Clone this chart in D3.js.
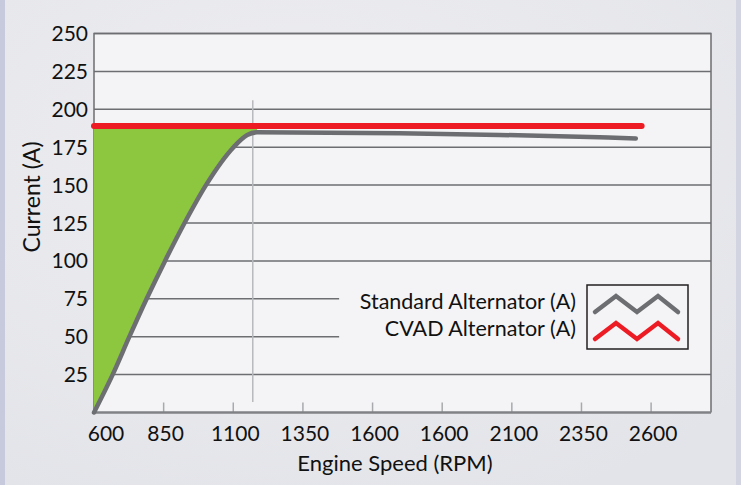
<!DOCTYPE html>
<html>
<head>
<meta charset="utf-8">
<script src="https://cdn.jsdelivr.net/npm/d3@7"></script>
<style>
  body { margin: 0; background: #e8e8ec; }
  svg { display: block; font-family: Lato, "Open Sans", sans-serif; }
</style>
</head>
<body>
<svg></svg>
<script>
const width = 741;
const height = 485;

// data
const stdRpm = [600, 667, 727, 789, 855, 925, 1002, 1101, 1150, 1185, 1697, 2056, 2415, 2545];
const stdAmps = [0, 25, 50, 75, 100, 125, 150, 175, 183, 184.8, 184.2, 183.1, 181.5, 180.8];
const cvadRpm = [600, 2566];
const cvadAmps = [189, 189];
const yTicks = [25, 50, 75, 100, 125, 150, 175, 200, 225, 250];
const xTickValues = [600, 850, 1100, 1350, 1600, 1850, 2100, 2350, 2600];
const xTickLabels = ['600', '850', '1100', '1350', '1600', '1600', '2100', '2350', '2600'];
const shortGrid = [50, 75];
const shortGridEnd = 1480;
const markerRpm = 1170;
const markerRange = [7, 206];
const legendNames = ['Standard Alternator (A)', 'CVAD Alternator (A)'];
const legendColors = ['#6d6e71', '#ed1c24'];

const svg = d3.select('svg')
    .attr('width', width)
    .attr('height', height);

// background
const defs = svg.append('defs');
const bg = defs.append('radialGradient').attr('id', 'bg').attr('cx', '0.4').attr('cy', '0.3').attr('r', '0.8');
bg.append('stop').attr('offset', '0').attr('stop-color', '#eeeef1');
bg.append('stop').attr('offset', '1').attr('stop-color', '#e3e4e9');
svg.append('rect').attr('width', width).attr('height', height).attr('fill', 'url(#bg)');
svg.append('rect').attr('x', 0).attr('width', 5).attr('height', height).attr('fill', '#c7cadd');
svg.append('rect').attr('x', 736).attr('width', 5).attr('height', height).attr('fill', '#d2d4e2');

const x = d3.scaleLinear().domain([600, 2815]).range([94, 711]);
const y = d3.scaleLinear().domain([0, 250]).range([412.5, 33.5]);

// plot panel
svg.append('rect')
    .attr('x', x(600)).attr('y', y(250))
    .attr('width', x(2815) - x(600)).attr('height', y(0) - y(250))
    .attr('fill', '#f4f4f6');

// grid lines
const grid = svg.append('g');
grid.selectAll('line')
    .data(yTicks)
    .join('line')
    .attr('x1', x(600))
    .attr('x2', d => shortGrid.includes(d) ? x(shortGridEnd) : x(2815))
    .attr('y1', d => y(d))
    .attr('y2', d => y(d))
    .attr('stroke', '#6d6e71')
    .attr('stroke-width', 1.5);

// marker line
svg.append('line')
    .attr('x1', x(markerRpm)).attr('x2', x(markerRpm))
    .attr('y1', y(markerRange[1])).attr('y2', y(markerRange[0]))
    .attr('stroke', '#b8b9bc')
    .attr('stroke-width', 1.5);

// bottom ticks
svg.append('g').selectAll('line')
    .data(xTickValues.slice(1))
    .join('line')
    .attr('x1', d => x(d)).attr('x2', d => x(d))
    .attr('y1', y(0)).attr('y2', y(0) - 10)
    .attr('stroke', '#a7a9ac')
    .attr('stroke-width', 1.5);

// frame
svg.append('path')
    .attr('d', `M${x(600)},${y(0)}V${y(250)}H${x(2815)}V${y(0)}`)
    .attr('fill', 'none')
    .attr('stroke', '#6d6e71')
    .attr('stroke-width', 1.5);
svg.append('line')
    .attr('x1', x(600)).attr('x2', x(2815))
    .attr('y1', y(0)).attr('y2', y(0))
    .attr('stroke', '#808285')
    .attr('stroke-width', 2.5);

const stdData = stdRpm.map((r, i) => ({ rpm: r, amps: stdAmps[i] }));
const cvadData = cvadRpm.map((r, i) => ({ rpm: r, amps: cvadAmps[i] }));

// green gain area
const area = d3.area()
    .x(d => x(d.rpm))
    .y0(d => y(d.amps))
    .y1(y(cvadAmps[0]))
    .curve(d3.curveMonotoneX);
svg.append('path')
    .datum(stdData.filter(d => d.rpm <= 1185))
    .attr('d', area)
    .attr('fill', '#8dc63f');

const line = d3.line()
    .x(d => x(d.rpm))
    .y(d => y(d.amps))
    .curve(d3.curveMonotoneX);

svg.append('path')
    .datum(stdData)
    .attr('d', line)
    .attr('fill', 'none')
    .attr('stroke', legendColors[0])
    .attr('stroke-width', 4.5)
    .attr('stroke-linecap', 'round');

svg.append('path')
    .datum(cvadData)
    .attr('d', line)
    .attr('fill', 'none')
    .attr('stroke', legendColors[1])
    .attr('stroke-width', 6)
    .attr('stroke-linecap', 'round');

// y labels
svg.append('g').selectAll('text')
    .data(yTicks)
    .join('text')
    .attr('x', 88)
    .attr('y', d => y(d))
    .attr('dy', '0.36em')
    .attr('text-anchor', 'end')
    .attr('font-size', 21)
    .attr('fill', '#111')
    .text(d => d);

// x labels
svg.append('g').selectAll('text')
    .data(xTickValues)
    .join('text')
    .attr('x', (d, i) => i == 0 ? x(d) + 12 : x(d) + 2)
    .attr('y', 441)
    .attr('text-anchor', 'middle')
    .attr('font-size', 21)
    .attr('fill', '#111')
    .text((d, i) => xTickLabels[i]);

svg.append('text')
    .attr('x', 395).attr('y', 471)
    .attr('text-anchor', 'middle')
    .attr('font-size', 22)
    .attr('fill', '#111')
    .text('Engine Speed (RPM)');

svg.append('text')
    .attr('transform', 'translate(40,197) rotate(-90)')
    .attr('text-anchor', 'middle')
    .attr('font-size', 23)
    .attr('fill', '#111')
    .text('Current (A)');

// legend
const legend = svg.append('g');
legend.append('rect')
    .attr('x', 587).attr('y', 285)
    .attr('width', 101).attr('height', 64)
    .attr('fill', '#f4f4f6')
    .attr('stroke', '#231f20')
    .attr('stroke-width', 1.5);

legendNames.forEach((name, i) => {
    const top = 296 + i * 27;
    legend.append('text')
        .attr('x', 576).attr('y', top + 13)
        .attr('text-anchor', 'end')
        .attr('font-size', 21.5)
        .attr('fill', '#111')
        .text(name);
    const zig = [[595, top + 16], [616, top], [637, top + 16], [658, top], [678, top + 16]];
    legend.append('path')
        .attr('d', d3.line()(zig))
        .attr('fill', 'none')
        .attr('stroke', legendColors[i])
        .attr('stroke-width', 4.5)
        .attr('stroke-linecap', 'round')
        .attr('stroke-linejoin', 'miter');
});
</script>
</body>
</html>
